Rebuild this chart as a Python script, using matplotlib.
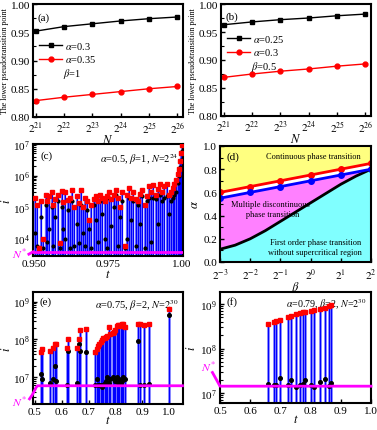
import numpy as np
import matplotlib
matplotlib.use("Agg")
import matplotlib.pyplot as plt
from matplotlib.lines import Line2D

plt.rcParams['font.family'] = 'serif'
plt.rcParams['font.serif'] = ['Liberation Serif', 'DejaVu Serif']
plt.rcParams['mathtext.fontset'] = 'stix'
plt.rcParams['axes.linewidth'] = 1.5

# ---------------- data ----------------
logN = [21, 22, 23, 24, 25, 26]
a_black = [0.952, 0.960, 0.965, 0.970, 0.974, 0.977]
a_red = [0.829, 0.835, 0.840, 0.845, 0.850, 0.854]
b_black = [0.963, 0.968, 0.972, 0.975, 0.979, 0.982]
b_red = [0.869, 0.875, 0.880, 0.884, 0.889, 0.893]

t_c = [0.9505, 0.9510, 0.9518, 0.9525, 0.9532, 0.9540, 0.9545, 0.9552, 0.9560, 0.9566,
       0.9572, 0.9580, 0.9588, 0.9595, 0.9600, 0.9607, 0.9615, 0.9622, 0.9630, 0.9637,
       0.9645, 0.9652, 0.9658, 0.9665, 0.9672, 0.9680, 0.9688, 0.9695, 0.9702, 0.9710,
       0.9718, 0.9725, 0.9732, 0.9740, 0.9747, 0.9755, 0.9762, 0.9770, 0.9778, 0.9785,
       0.9792, 0.9800, 0.9807, 0.9815, 0.9822, 0.9830, 0.9837, 0.9845, 0.9852, 0.9860,
       0.9867, 0.9875, 0.9882, 0.9890, 0.9897, 0.9905, 0.9912, 0.9920, 0.9927, 0.9935,
       0.9942, 0.9950, 0.9957, 0.9963, 0.9970, 0.9976, 0.9982, 0.9987, 0.9991, 0.9995,
       0.9998, 1.0000]
red_c = [2.0e5, 1.2e5, 5e3, 1.5e5, 1.0e4, 2.5e5, 1.5e5, 2.2e5, 3.0e5, 1.2e5,
         1.8e5, 2.5e5, 7e3, 3.2e5, 1.4e5, 3.0e5, 1.7e5, 2.0e5, 3.5e5, 1.0e5,
         2.3e5, 1.3e5, 3.6e5, 1.0e5, 2.0e5, 1.5e5, 4e4, 1.2e5, 1.8e5, 2.2e5,
         1.5e5, 2.4e5, 1.9e5, 1.5e5, 2.2e5, 3.0e5, 1.8e5, 2.5e5, 3.4e5, 2.0e5,
         1.0e5, 3.0e5, 6e3, 2.5e5, 4.0e5, 2.0e5, 3.0e5, 1.8e5, 1.5e5, 2.6e5,
         3.5e5, 1.2e5, 2.2e5, 4.5e5, 3.0e5, 5e5, 2.5e5, 3.8e5, 5.2e5, 3e5,
         4.5e5, 5.5e5, 2.5e5, 3e5, 4e5, 5.5e5, 7e5, 1.1e6, 1.6e6, 2.8e6,
         5e6, 9e6]
black_c = [1.5e4, 6e3, 4.5e3, 5e4, 5e3, 1.2e5, 8e3, 2e4, 1.0e5, 6e3,
           5e4, 1.5e5, 5e3, 1e5, 2e4, 1.0e4, 8e4, 5e3, 1.5e5, 6e3,
           3e4, 7e3, 1.2e5, 1.5e4, 6e3, 8e4, 2e4, 5e3, 1.2e5, 4e4,
           8e3, 1.5e5, 6e4, 1e4, 5e3, 2e5, 2.5e4, 1e5, 2.5e5, 6e3,
           5e4, 1.5e5, 5e3, 1e4, 2e5, 4e4, 1.5e5, 6e3, 1.2e5, 3e4,
           2.2e5, 5e3, 1.5e5, 2e5, 8e3, 2e5, 1.8e5, 3e4, 2.5e5, 1.6e5,
           2e5, 2.2e5, 6e4, 1.5e5, 2e5, 2.5e5, 3e5, 6e5, 1e6, 1.8e6,
           3e6, 6e6]
Nstar_c = 3.8e3

logbeta = [-3, -2, -1, 0, 1, 2]
d_red = [0.60, 0.65, 0.70, 0.75, 0.80, 0.85]
d_blue = [0.55, 0.60, 0.65, 0.70, 0.75, 0.80]
logbeta_fine = [-3, -2.5, -2, -1.5, -1, -0.5, 0, 0.5, 1, 1.5, 2]
d_black = [0.11, 0.145, 0.20, 0.27, 0.35, 0.43, 0.51, 0.59, 0.67, 0.74, 0.80]

t_e = [0.522, 0.528, 0.558, 0.566, 0.575, 0.580, 0.619, 0.624, 0.658, 0.665,
       0.670, 0.692, 0.725, 0.730, 0.735, 0.740, 0.745, 0.750, 0.755, 0.760,
       0.765, 0.770, 0.775, 0.780, 0.790, 0.795, 0.800, 0.805, 0.810, 0.815,
       0.820, 0.825, 0.830, 0.835, 0.886, 0.892, 0.905, 0.925, 1.000]
red_e = [4.5e7, 5.5e7, 4.8e7, 6.0e7, 7.5e7, 7.5e7, 6.0e7, 1.0e8, 6.0e7, 1.0e8,
         1.8e8, 1.9e8, 4.5e7, 5.5e7, 6.5e7, 7.5e7, 8.5e7, 9.5e7, 1.05e8, 1.1e8,
         1.15e8, 1.25e8, 2.1e8, 1.4e8, 1.5e8, 1.6e8, 1.75e8, 2.3e8, 2.4e8, 2.4e8,
         2.2e8, 2.5e8, 2.5e8, 2.1e8, 2.6e8, 2.6e8, 2.4e8, 2.6e8, 6.2e8]
black_e = [1.2e7, 9e6, 7e6, 9e6, 1.9e7, 8e6, 6e6, 5e7, 7e6, 7.5e7,
           5e7, 4.5e7, 6e6, 9e6, 6e6, 6e6, 6e6, 5.5e6, 6e6, 7e6,
           8e6, 1.0e7, 7e6, 9e6, 1.0e7, 9e6, 8e6, 1.0e7, 7e6, 9e6,
           7e6, 8e6, 1.0e7, 9e6, 9e7, 6e6, 6e6, 6.5e6, 4.5e8]
Nstar_e_t = [0.48, 0.49, 0.50, 0.505, 0.51, 1.05]
Nstar_e_v = [2.6e6, 3.3e6, 4.5e6, 5.3e6, 5.8e6, 5.8e6]

t_f = [0.659, 0.679, 0.687, 0.698, 0.725, 0.736, 0.753, 0.764, 0.775, 0.783,
       0.800, 0.810, 0.830, 0.847, 0.861, 0.867]
red_f = [3.6e8, 3.9e8, 4.1e8, 4.4e8, 5.2e8, 5.4e8, 5.9e8, 6.3e8, 6.6e8, 6.7e8,
         7.0e8, 7.3e8, 7.8e8, 8.2e8, 9.2e8, 9.4e8]
black_f = [1.6e7, 1.5e7, 1.5e7, 2.2e7, 1.5e7, 2.0e7, 1.4e7, 1.5e7, 1.6e7, 2.0e7,
           1.5e7, 1.4e7, 1.8e7, 2.1e7, 1.45e7, 1.7e7]
Nstar_f_t = [0.475, 0.49, 0.50, 1.0]
Nstar_f_v = [2.9e7, 1.9e7, 1.43e7, 1.43e7]

# ---------------- figure ----------------
W, H = 377, 431
fig = plt.figure(figsize=(W / 100, H / 100), dpi=100)


def ax_px(l, t, r, b):
    return fig.add_axes([l / W, 1 - b / H, (r - l) / W, (b - t) / H])


TICK = 8
MAG = '#FF00FF'


def style(ax):
    ax.tick_params(direction='in', labelsize=TICK, width=1, length=3, pad=2)
    ax.tick_params(which='minor', direction='in', width=0.8, length=2)


def pseudo_panel(ax, black, red, lab, la1, la2, lb, leg_y, beta_y):
    ax.plot(logN, black, '-s', color='black', ms=3.5, lw=1)
    ax.plot(logN, red, '-o', color='red', ms=3.5, lw=1)
    ax.set_xlim(20.9, 26.2)
    ax.set_ylim(0.80, 1.00)
    ax.set_xticks(logN)
    ax.set_xticklabels([f'$2^{{{n}}}$' for n in logN])
    ax.set_yticks([0.80, 0.85, 0.90, 0.95, 1.00])
    ax.set_yticklabels(['0.80', '0.85', '0.90', '0.95', '1.00'])
    ax.set_yticks(np.arange(0.80, 1.001, 0.025), minor=True)
    style(ax)
    ax.set_xlabel('$N$', fontsize=9, labelpad=-1)
    ax.set_ylabel('The lower pseudotransition point', fontsize=5.8, labelpad=1)
    ax.text(0.03, 0.93, lab, transform=ax.transAxes, fontsize=8, va='top')
    h = [Line2D([], [], color='black', marker='s', ms=3.5, lw=1),
         Line2D([], [], color='red', marker='o', ms=3.5, lw=1)]
    ax.legend(h, [la1, la2], loc='upper left', bbox_to_anchor=(0.0, leg_y),
              frameon=False, fontsize=7.5, handlelength=2.2, handletextpad=0.3,
              labelspacing=0.25, borderaxespad=0.2)
    ax.text(0.2, beta_y, lb, transform=ax.transAxes, fontsize=7.5, va='center')


axa = ax_px(33, 5, 183, 118)
pseudo_panel(axa, a_black, a_red, '(a)', r'$\alpha$=0.3', r'$\alpha$=0.35', r'$\beta$=1',
             0.74, 0.39)
axb = ax_px(221, 5, 371, 117)
pseudo_panel(axb, b_black, b_red, '(b)', r'$\alpha$=0.25', r'$\alpha$=0.3', r'$\beta$=0.5',
             0.80, 0.45)


def stems(ax, t, red, black, bottom, lw_light=1.8, ms_r=3.0, ms_b=2.6, clip=False):
    ax.vlines(t, bottom, red, color='#7070ff', lw=lw_light, zorder=2)
    ax.vlines(t, bottom, red, color='#0000ff', lw=0.8, zorder=2)
    ax.plot(t, black, 'o', color='black', ms=ms_b, zorder=4, clip_on=clip)
    ax.plot(t, red, 's', color='red', ms=ms_r, zorder=5, clip_on=clip)


# (c)
axc = ax_px(33, 145, 183, 257)
axc.set_yscale('log')
axc.set_ylim(2.8e3, 1e7)
axc.set_xlim(0.9497, 1.0005)
stems(axc, t_c, red_c, black_c, 2.8e3, lw_light=1.6, ms_r=2.3, ms_b=2.0, clip=True)
axc.axhline(Nstar_c, color=MAG, lw=2, zorder=6)
axc.plot([0.9483, 0.9497], [3.2e3, Nstar_c], color=MAG, lw=2, clip_on=False, zorder=6)
axc.set_xticks([0.950, 0.975, 1.000])
axc.set_xticklabels(['0.950', '0.975', '1.00'])
axc.set_yticks([1e4, 1e5, 1e6, 1e7])
style(axc)
axc.set_xlabel('$t$', fontsize=9, labelpad=0)
axc.set_ylabel('$i$', fontsize=9, labelpad=0)
axc.text(0.05, 0.94, '(c)', transform=axc.transAxes, fontsize=8, va='top')
axc.text(0.97, 0.94, r'$\alpha$=0.5, $\beta$=1, $N$=$2^{24}$', transform=axc.transAxes,
         fontsize=7.5, va='top', ha='right')
axc.text(-0.09, 0.02, r'$N^{*}$', transform=axc.transAxes, color=MAG, fontsize=8.5,
         va='center', ha='center')

# (d)
axd = ax_px(220, 147, 371, 263)
xf = np.array(logbeta_fine)
red_f_i = np.interp(xf, logbeta, d_red)
blue_f_i = np.interp(xf, logbeta, d_blue)
axd.fill_between(xf, red_f_i, 1.0, color='#FFFF80', lw=0)
axd.fill_between(xf, blue_f_i, red_f_i, color='white', lw=0)
axd.fill_between(xf, d_black, blue_f_i, color='#FF80FF', lw=0)
axd.fill_between(xf, 0, d_black, color='#80FFFF', lw=0)
axd.plot(logbeta_fine, d_black, '-', color='black', lw=2)
axd.plot(logbeta, d_red, '-o', color='red', lw=2, ms=4)
axd.plot(logbeta, d_blue, '-o', color='blue', lw=2, ms=4)
axd.set_xlim(-3, 2)
axd.set_ylim(0, 1)
axd.set_xticks(logbeta)
axd.set_xticklabels([f'$2^{{{n}}}$' for n in logbeta])
axd.set_yticks([0, 0.2, 0.4, 0.6, 0.8, 1.0])
axd.set_yticklabels(['0.0', '0.2', '0.4', '0.6', '0.8', '1.0'])
axd.set_yticks(np.arange(0, 1.01, 0.1), minor=True)
style(axd)
axd.tick_params(axis='x', pad=3.5)
axd.set_xlabel(r'$\beta$', fontsize=9, labelpad=-2)
axd.set_ylabel(r'$\alpha$', fontsize=9, labelpad=2)
axd.text(0.04, 0.95, '(d)', transform=axd.transAxes, fontsize=8, va='top')
axd.text(0.62, 0.915, 'Continuous phase transition', transform=axd.transAxes,
         fontsize=6, ha='center', va='center')
axd.text(0.07, 0.46, 'Multiple discontinuous\n       phase transition', transform=axd.transAxes,
         fontsize=6, ha='left', va='center', linespacing=1.3)
axd.text(0.63, 0.13, 'First order phase transition\nwithout supercritical region',
         transform=axd.transAxes, fontsize=6, ha='center', va='center', linespacing=1.3)

# (e)
axe = ax_px(33, 293, 183, 405)
axe.set_yscale('log')
axe.set_ylim(1.9e6, 1.8e9)
axe.set_xlim(0.493, 1.052)
stems(axe, t_e, red_e, black_e, 1.9e6)
axe.plot(Nstar_e_t, Nstar_e_v, color=MAG, lw=2, zorder=6, clip_on=False)
axe.set_xticks([0.5, 0.6, 0.7, 0.8, 0.9, 1.0])
axe.set_yticks([1e7, 1e8, 1e9])
style(axe)
axe.set_xlabel('$t$', fontsize=9, labelpad=-1)
axe.set_ylabel('$i$', fontsize=9, labelpad=0)
axe.text(0.04, 0.96, '(e)', transform=axe.transAxes, fontsize=8, va='top')
axe.text(0.97, 0.95, r'$\alpha$=0.75, $\beta$=2, $N$=$2^{30}$', transform=axe.transAxes,
         fontsize=7.5, va='top', ha='right')
axe.text(-0.09, 0.02, r'$N^{*}$', transform=axe.transAxes, color=MAG, fontsize=8.5,
         va='center', ha='center')

# (f)
axf = ax_px(220, 293, 371, 404)
axf.set_yscale('log')
axf.set_ylim(6e6, 1.85e9)
axf.set_xlim(0.5, 1.0)
stems(axf, t_f, red_f, black_f, 6e6)
axf.plot(Nstar_f_t, Nstar_f_v, color=MAG, lw=2, zorder=6, clip_on=False)
axf.set_xticks([0.5, 0.6, 0.7, 0.8, 0.9, 1.0])
axf.set_yticks([1e7, 1e8, 1e9])
style(axf)
axf.set_xlabel('$t$', fontsize=9, labelpad=-1)
axf.set_ylabel('$i$', fontsize=9, labelpad=2)
axf.text(0.04, 0.96, '(f)', transform=axf.transAxes, fontsize=8, va='top')
axf.text(0.97, 0.965, r'$\alpha$=0.79, $\beta$=2, $N$=$2^{30}$', transform=axf.transAxes,
         fontsize=7.2, va='top', ha='right')
axf.text(-0.08, 0.33, r'$N^{*}$', transform=axf.transAxes, color=MAG, fontsize=8.5,
         va='center', ha='center')

fig.savefig('out.png', dpi=100)
